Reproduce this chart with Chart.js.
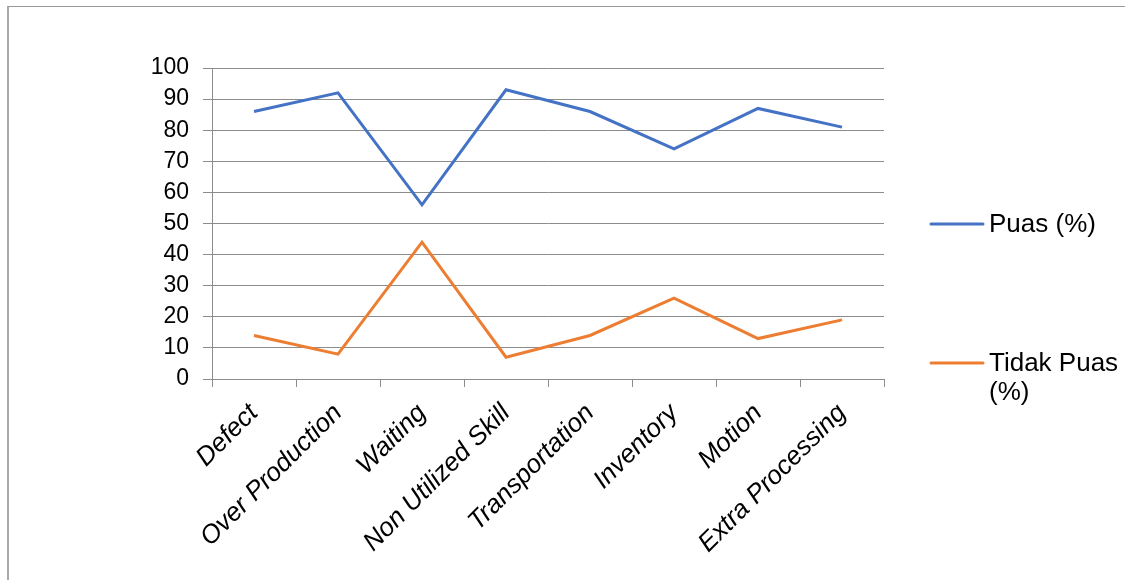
<!DOCTYPE html>
<html>
<head>
<meta charset="utf-8">
<script src="https://cdn.jsdelivr.net/npm/chart.js@4/dist/chart.umd.min.js"></script>
<style>
    body { margin: 0; background: #fff; }
    #wrap { position: relative; width: 1125px; height: 580px; overflow: hidden; }
    #frame { position: absolute; left: 7px; top: 6px; width: 1200px; height: 700px;
             border-left: 2px solid #a9a9a9; border-top: 1px solid #999; }
    canvas { position: absolute; left: 0; top: 0; }
</style>
</head>
<body>
<div id="wrap">
    <div id="frame"></div>
    <canvas id="lineChart" width="1125" height="580"></canvas>
</div>
<script>
const categories = ['Defect', 'Over Production', 'Waiting', 'Non Utilized Skill', 'Transportation', 'Inventory', 'Motion', 'Extra Processing'];
const puas = [86, 92, 56, 93, 86, 74, 87, 81];
const tidakPuas = [14, 8, 44, 7, 14, 26, 13, 19];
const seriesNames = ['Puas (%)', ['Tidak Puas', '(%)']];
const seriesColors = ['#4472C4', '#ED7D31'];

const FONT = '"Liberation Sans", Arial, sans-serif';
const gridColor = '#8c8c8c';

// legend drawn by hand so the second label can wrap like the original
const sideLegend = {
    id: 'sideLegend',
    afterDraw(chart) {
        const c = chart.ctx;
        const rows = [224, 363];
        c.save();
        c.font = '26px ' + FONT;
        c.fillStyle = '#000';
        c.textBaseline = 'middle';
        rows.forEach((y, i) => {
            c.strokeStyle = seriesColors[i];
            c.lineWidth = 3;
            c.lineCap = 'round';
            c.beginPath();
            c.moveTo(931, y);
            c.lineTo(983, y);
            c.stroke();
            const lines = [].concat(seriesNames[i]);
            lines.forEach((t, k) => c.fillText(t, 989, y + 1 + k * 29));
        });
        c.restore();
    }
};

new Chart(document.getElementById('lineChart'), {
    type: 'line',
    data: {
        labels: categories,
        datasets: [{
            label: 'Puas (%)',
            data: puas,
            borderColor: seriesColors[0],
            borderWidth: 3,
            pointRadius: 0,
            tension: 0
        }, {
            label: 'Tidak Puas (%)',
            data: tidakPuas,
            borderColor: seriesColors[1],
            borderWidth: 3,
            pointRadius: 0,
            tension: 0
        }]
    },
    options: {
        responsive: false,
        animation: false,
        layout: {
            padding: { left: 0, top: 68, right: 241, bottom: 0 }
        },
        plugins: {
            legend: { display: false },
            tooltip: { enabled: false }
        },
        scales: {
            x: {
                offset: true,
                grid: {
                    offset: true,
                    drawOnChartArea: false,
                    color: gridColor,
                    tickLength: 8
                },
                border: { color: gridColor },
                ticks: {
                    color: '#000',
                    maxRotation: 45,
                    minRotation: 45,
                    autoSkip: false,
                    padding: 11,
                    font: { family: FONT, size: 26, style: 'italic' }
                },
                afterFit(scale) { scale.height = 201; }
            },
            y: {
                min: 0,
                max: 100,
                grid: {
                    color: gridColor,
                    tickLength: 9
                },
                border: { color: gridColor },
                ticks: {
                    stepSize: 10,
                    color: '#000',
                    padding: 14,
                    font: { family: FONT, size: 23 }
                },
                afterFit(scale) { scale.width = 212; }
            }
        }
    },
    plugins: [sideLegend]
});
</script>
</body>
</html>
